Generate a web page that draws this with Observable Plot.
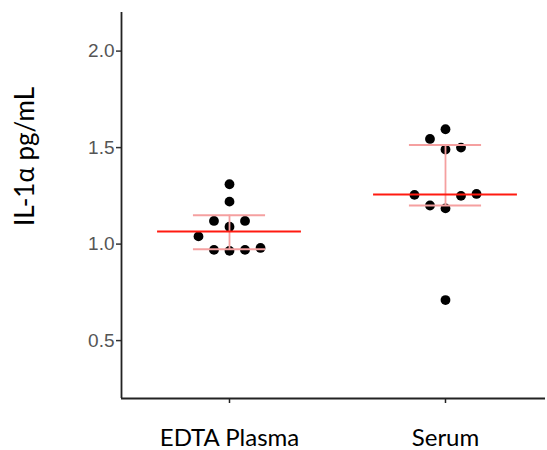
<!DOCTYPE html>
<html>
<head>
<meta charset="utf-8">
<script src="https://cdn.jsdelivr.net/npm/d3@7"></script>
<script src="https://cdn.jsdelivr.net/npm/@observablehq/plot@0.6"></script>
<style>
  body { margin: 0; background: #fff; }
  #chart svg { display: block; }
</style>
</head>
<body>
<div id="chart"></div>
<script>
const groups = ["EDTA Plasma", "Serum"];
const plasmaValues = [1.31, 1.22, 1.12, 1.12, 1.09, 1.04, 0.97, 0.965, 0.97, 0.98];
const plasmaSlots  = [0, 0, -1, 1, 0, -2, -1, 0, 1, 2];
const serumValues  = [1.595, 1.545, 1.49, 1.50, 1.255, 1.25, 1.26, 1.20, 1.185, 0.71];
const serumSlots   = [0, -1, 0, 1, -2, 1, 2, -1, 0, 0];
const medians = [1.065, 1.257];
const upperBars = [1.15, 1.513];
const lowerBars = [0.973, 1.20];
const yTicks = [0.5, 1.0, 1.5, 2.0];
const yLabel = "IL-1α pg/mL";

const slotStep = 0.0718;
const points = [
  ...plasmaValues.map((v, i) => ({g: 0, v, slot: plasmaSlots[i]})),
  ...serumValues.map((v, i) => ({g: 1, v, slot: serumSlots[i]}))
];
const summary = groups.map((name, i) => ({g: i, med: medians[i], hi: upperBars[i], lo: lowerBars[i]}));

const xDomain = [-0.5, 1.463];
const yDomain = [0.2, 2.2];

const chart = Plot.plot({
  width: 547,
  height: 450,
  marginLeft: 121,
  marginRight: 2,
  marginTop: 12,
  marginBottom: 52,
  x: {domain: xDomain, label: null},
  y: {domain: yDomain, label: null},
  marks: [
    Plot.axisX({ticks: [0, 1], tickFormat: d => groups[d], tickSize: 5, tickPadding: 25, label: null,
      fontSize: 24, fontFamily: "Lato, 'Open Sans', sans-serif", fill: "#000", stroke: "#222", strokeWidth: 1.5}),
    Plot.axisY({ticks: yTicks, tickFormat: d3.format(".1f"), tickSize: 5, tickPadding: 2, label: null,
      fontSize: 19, fontFamily: "'Liberation Sans', Arial, sans-serif", fill: "#555", stroke: "#333", strokeWidth: 1.5}),
    Plot.ruleX([xDomain[0]], {y1: yDomain[0], y2: yDomain[1], stroke: "#222", strokeWidth: 1.8}),
    Plot.ruleY([yDomain[0]], {x1: xDomain[0], x2: xDomain[1], stroke: "#222", strokeWidth: 1.8}),
    Plot.dot(points, {x: d => d.g + d.slot * slotStep, y: "v", r: 4.9, fill: "#000", stroke: "none"}),
    Plot.ruleX(summary, {x: "g", y1: "lo", y2: "hi", stroke: "#f5a0a0", strokeWidth: 1.8}),
    Plot.ruleY(summary, {y: "hi", x1: d => d.g - 0.167, x2: d => d.g + 0.167, stroke: "#f5a0a0", strokeWidth: 2}),
    Plot.ruleY(summary, {y: "lo", x1: d => d.g - 0.167, x2: d => d.g + 0.167, stroke: "#f5a0a0", strokeWidth: 2}),
    Plot.ruleY(summary, {y: "med", x1: d => d.g - 0.333, x2: d => d.g + 0.333, stroke: "#ff1a10", strokeWidth: 2}),
    Plot.text([yLabel], {frameAnchor: "left", text: d => d, rotate: -90, textAnchor: "middle", dx: -96, dy: -49,
      fontSize: 26, fontFamily: "Lato, 'Open Sans', sans-serif", fill: "#000"})
  ]
});
document.getElementById("chart").appendChild(chart);
</script>
</body>
</html>
